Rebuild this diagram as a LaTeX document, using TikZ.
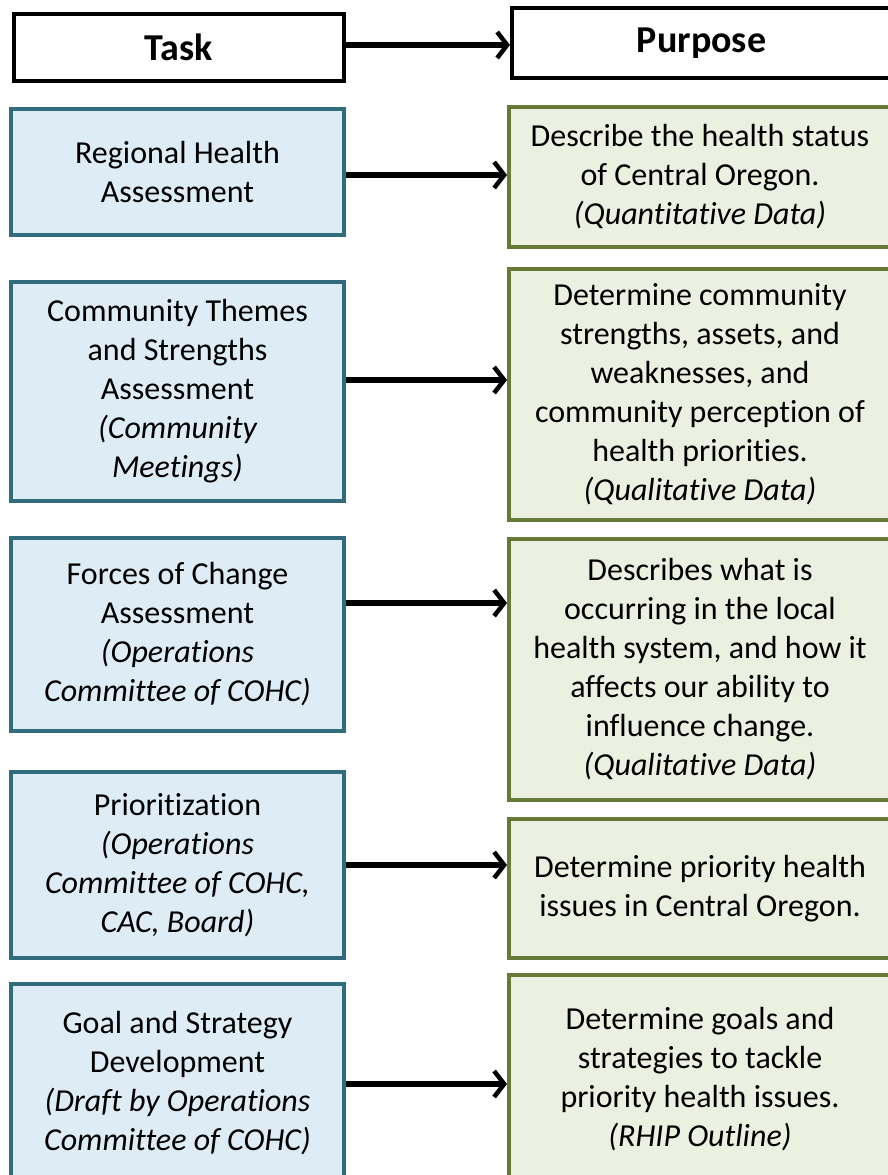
\documentclass[tikz,border=0pt]{standalone}
\usepackage{fontspec}
\setmainfont{Carlito}[Ligatures=NoCommon]
\usetikzlibrary{arrows.meta}
\definecolor{taskfill}{RGB}{222,237,245}
\definecolor{taskline}{RGB}{49,108,124}
\definecolor{purpfill}{RGB}{235,240,225}
\definecolor{purpline}{RGB}{104,122,56}
\tikzset{
  txt/.style={font=\fontsize{32}{39}\selectfont, align=center, inner sep=0pt},
  headbox/.style={draw=black, fill=white, line width=4pt, inner sep=0pt, font=\fontsize{38}{44}\selectfont\bfseries},
  taskbox/.style={txt, draw=taskline, fill=taskfill, line width=4pt, minimum width=333},
  purpbox/.style={txt, draw=purpline, fill=purpfill, line width=4pt, minimum width=382},
  link/.style={line width=5.5pt, -{Straight Barb[length=10pt,width=26pt,line width=4.5pt]}}
}
\begin{document}
\begin{tikzpicture}[x=1pt,y=-1pt]
\useasboundingbox (0,0) rectangle (888,1175);
\clip (0,0) rectangle (888,1175);
% headers
\node[headbox, minimum width=330, minimum height=67] (task) at (179,47.5) {Task};
\node[headbox, minimum width=379, minimum height=70] (purpose) at (701.5,43) {Purpose};
% task boxes
\node[taskbox, minimum height=126] (t1) at (177.5,172) {Regional Health\\Assessment};
\node[taskbox, minimum height=219] (t2) at (177.5,391.5) {Community Themes\\and Strengths\\Assessment\\\itshape (Community\\\itshape Meetings)};
\node[taskbox, minimum height=193] (t3) at (177.5,634.5) {Forces of Change\\Assessment\\\itshape (Operations\\\itshape Committee of COHC)};
\node[taskbox, minimum height=186] (t4) at (177.5,865) {Prioritization\\\itshape (Operations\\\itshape Committee of COHC,\\\itshape CAC, Board)};
\node[taskbox, minimum height=199] (t5) at (177.5,1083.5) {Goal and Strategy\\Development\\\itshape (Draft by Operations\\\itshape Committee of COHC)};
% purpose boxes
\node[purpbox, minimum height=140] (p1) at (700,177) {Describe the health status\\of Central Oregon.\\\itshape (Quantitative Data)};
\node[purpbox, minimum height=251] (p2) at (700,394.5) {Determine community\\strengths, assets, and\\weaknesses, and\\community perception of\\health priorities.\\\itshape (Qualitative Data)};
\node[purpbox, minimum height=261] (p3) at (700,669.5) {Describes what is\\occurring in the local\\health system, and how it\\affects our ability to\\influence change.\\\itshape (Qualitative Data)};
\node[purpbox, minimum height=139] (p4) at (700,888.5) {Determine priority health\\issues in Central Oregon.};
\node[purpbox, minimum height=208] (p5) at (700,1079) {Determine goals and\\strategies to tackle\\priority health issues.\\\itshape (RHIP Outline)};
% connectors
\draw[link] ([yshift=2.5pt]task.east) -- ([yshift=2.5pt]task.east -| purpose.west);
\draw[link] ([yshift=-3pt]t1.east) -- ([yshift=-3pt]t1.east -| p1.west);
\draw[link] ([yshift=11.5pt]t2.east) -- ([yshift=11.5pt]t2.east -| p2.west);
\draw[link] ([yshift=31.5pt]t3.east) -- ([yshift=31.5pt]t3.east -| p3.west);
\draw[link] (t4.east) -- (t4.east -| p4.west);
\draw[link] ([yshift=-0.5pt]t5.east) -- ([yshift=-0.5pt]t5.east -| p5.west);
\end{tikzpicture}
\end{document}
